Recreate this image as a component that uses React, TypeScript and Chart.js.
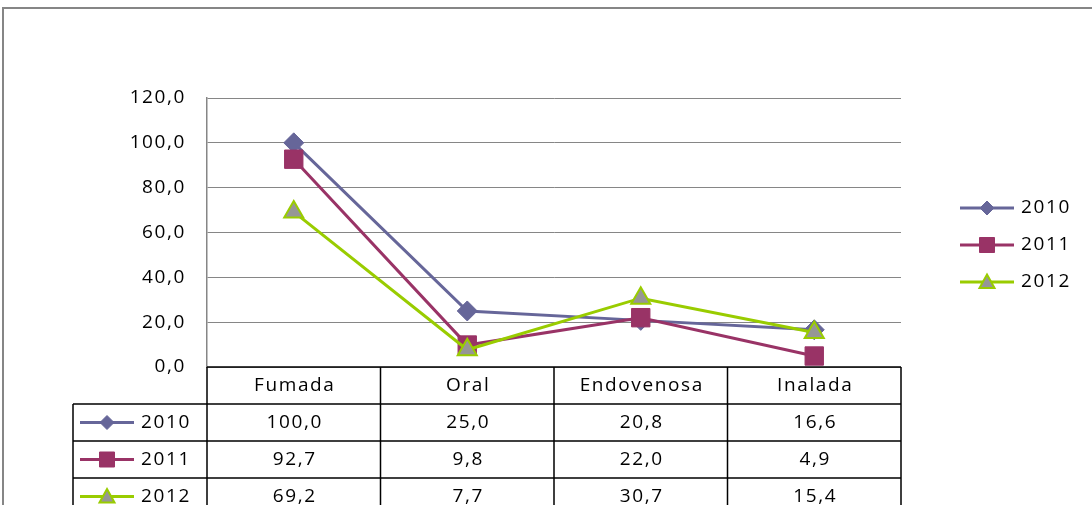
import React, { useEffect, useRef } from "react";
import { Chart, registerables } from "chart.js";

Chart.register(...registerables);

const categories = ["Fumada", "Oral", "Endovenosa", "Inalada"];
const seriesNames = ["2010", "2011", "2012"];
const values2010 = [100.0, 25.0, 20.8, 16.6];
const values2011 = [92.7, 9.8, 22.0, 4.9];
const values2012 = [69.2, 7.7, 30.7, 15.4];
const yMin = 0;
const yMax = 120;
const yStep = 20;

const FONT = '"Open Sans", sans-serif';
const FSIZE = 19;
const SPACING = "1.6px";
const fmt = (v: number) => v.toFixed(1).replace(".", ",");

type Style = {
  color: string;
  fill: string;
  border: string;
  borderW: number;
  shape: "diamond" | "square" | "triangle";
};
const styles: Style[] = [
  { color: "#666699", fill: "#666699", border: "#666699", borderW: 1, shape: "diamond" },
  { color: "#993366", fill: "#993366", border: "#993366", borderW: 1, shape: "square" },
  { color: "#99CC00", fill: "#969696", border: "#99CC00", borderW: 2, shape: "triangle" },
];

function drawKey(ctx: CanvasRenderingContext2D, s: Style, x0: number, x1: number, y: number) {
  ctx.save();
  ctx.strokeStyle = s.color;
  ctx.lineWidth = 3;
  ctx.beginPath();
  ctx.moveTo(x0, y);
  ctx.lineTo(x1, y);
  ctx.stroke();
  const cx = (x0 + x1) / 2;
  ctx.fillStyle = s.fill;
  ctx.strokeStyle = s.border;
  ctx.lineWidth = s.borderW;
  ctx.beginPath();
  if (s.shape === "diamond") {
    const r = 7;
    ctx.moveTo(cx - r, y);
    ctx.lineTo(cx, y - r);
    ctx.lineTo(cx + r, y);
    ctx.lineTo(cx, y + r);
    ctx.closePath();
  } else if (s.shape === "square") {
    const h = 7.5;
    ctx.rect(cx - h, y - h, 2 * h, 2 * h);
  } else {
    const h = 7.5;
    ctx.moveTo(cx, y - h);
    ctx.lineTo(cx + h, y + h * 0.8);
    ctx.lineTo(cx - h, y + h * 0.8);
    ctx.closePath();
  }
  ctx.fill();
  ctx.stroke();
  ctx.restore();
}

const seriesValues = [values2010, values2011, values2012];

const decoPlugin = {
  id: "deco",
  beforeUpdate(chart: any) {
    (chart.ctx as any).letterSpacing = SPACING;
  },
  beforeDraw(chart: any) {
    const ctx: CanvasRenderingContext2D = chart.ctx;
    (ctx as any).letterSpacing = SPACING;
    ctx.save();
    ctx.fillStyle = "#ffffff";
    ctx.fillRect(0, 0, chart.width, chart.height);
    ctx.strokeStyle = "#868686";
    ctx.lineWidth = 2;
    ctx.strokeRect(3, 8, chart.width + 20, chart.height + 20);
    ctx.restore();
  },
  afterDraw(chart: any) {
    const ctx: CanvasRenderingContext2D = chart.ctx;
    (ctx as any).letterSpacing = SPACING;
    const { left, right, bottom } = chart.chartArea;
    const n = categories.length;
    const colW = (right - left) / n;
    const rowH = 37;
    const tableLeft = 73;
    ctx.save();
    ctx.strokeStyle = "#000000";
    ctx.lineWidth = 1.5;
    ctx.beginPath();
    ctx.moveTo(left, bottom);
    ctx.lineTo(right, bottom);
    for (let r = 1; r <= 4; r++) {
      ctx.moveTo(tableLeft, bottom + r * rowH);
      ctx.lineTo(right, bottom + r * rowH);
    }
    for (let i = 0; i <= n; i++) {
      const x = left + i * colW;
      ctx.moveTo(x, bottom);
      ctx.lineTo(x, bottom + 4 * rowH);
    }
    ctx.moveTo(tableLeft, bottom + rowH);
    ctx.lineTo(tableLeft, bottom + 4 * rowH);
    ctx.stroke();

    ctx.fillStyle = "#000000";
    ctx.font = `${FSIZE}px ${FONT}`;
    ctx.textBaseline = "middle";
    ctx.textAlign = "center";
    categories.forEach((c, i) => {
      ctx.fillText(c, left + (i + 0.5) * colW + 1, bottom + rowH / 2);
    });
    seriesValues.forEach((vals, s) => {
      const y = bottom + (s + 1.5) * rowH;
      ctx.textAlign = "center";
      vals.forEach((v, i) => {
        ctx.fillText(fmt(v), left + (i + 0.5) * colW + 1, y);
      });
      ctx.textAlign = "left";
      ctx.fillText(seriesNames[s], 141, y);
    });
    ctx.restore();

    seriesValues.forEach((_, s) => {
      const y = bottom + (s + 1.5) * rowH;
      drawKey(ctx, styles[s], 80, 134, y);
    });

    // legend
    seriesNames.forEach((name, s) => {
      const y = 208 + s * 37;
      drawKey(ctx, styles[s], 960, 1014, y);
      ctx.save();
      ctx.fillStyle = "#000000";
      ctx.font = `${FSIZE}px ${FONT}`;
      ctx.textBaseline = "middle";
      ctx.textAlign = "left";
      ctx.fillText(name, 1021, y);
      ctx.restore();
    });
  },
};

export default function App() {
  const ref = useRef<HTMLCanvasElement>(null);
  useEffect(() => {
    if (!ref.current) return;
    const chart = new Chart(ref.current, {
      type: "line",
      data: {
        labels: categories,
        datasets: [
          {
            label: seriesNames[0],
            data: values2010,
            borderColor: "#666699",
            backgroundColor: "#666699",
            borderWidth: 3,
            pointStyle: "rectRot",
            pointRadius: 10,
            pointBackgroundColor: "#666699",
            pointBorderColor: "#666699",
            pointBorderWidth: 1,
            tension: 0,
            order: 2,
          },
          {
            label: seriesNames[1],
            data: values2011,
            borderColor: "#993366",
            backgroundColor: "#993366",
            borderWidth: 3,
            pointStyle: "rect",
            pointRadius: 13,
            pointBackgroundColor: "#993366",
            pointBorderColor: "#993366",
            pointBorderWidth: 1,
            tension: 0,
            order: 1,
          },
          {
            label: seriesNames[2],
            data: values2012,
            borderColor: "#99CC00",
            backgroundColor: "#969696",
            borderWidth: 3,
            pointStyle: "triangle",
            pointRadius: 11,
            pointBackgroundColor: "#969696",
            pointBorderColor: "#99CC00",
            pointBorderWidth: 2,
            tension: 0,
            order: 0,
          },
        ],
      },
      options: {
        responsive: false,
        animation: false,
        layout: { padding: { left: 0, top: 98, right: 191, bottom: 138 } },
        plugins: { legend: { display: false }, tooltip: { enabled: false } },
        scales: {
          x: { type: "category", display: false, offset: true },
          y: {
            min: yMin,
            max: yMax,
            ticks: {
              stepSize: yStep,
              padding: 21,
              color: "#000000",
              font: { family: FONT, size: FSIZE },
              callback: (v: any) => fmt(Number(v)),
            },
            grid: { color: "#868686", lineWidth: 1, drawTicks: false },
            border: { display: true, color: "#868686", width: 1.5 },
            afterFit: (scale: any) => {
              scale.width = 207;
            },
          },
        },
      },
      plugins: [decoPlugin],
    } as any);
    return () => chart.destroy();
  }, []);
  return (
    <div style={{ position: "fixed", left: 0, top: 0, width: 1092, height: 505, background: "#fff" }}>
      <canvas ref={ref} width={1092} height={505} style={{ display: "block" }} />
    </div>
  );
}
